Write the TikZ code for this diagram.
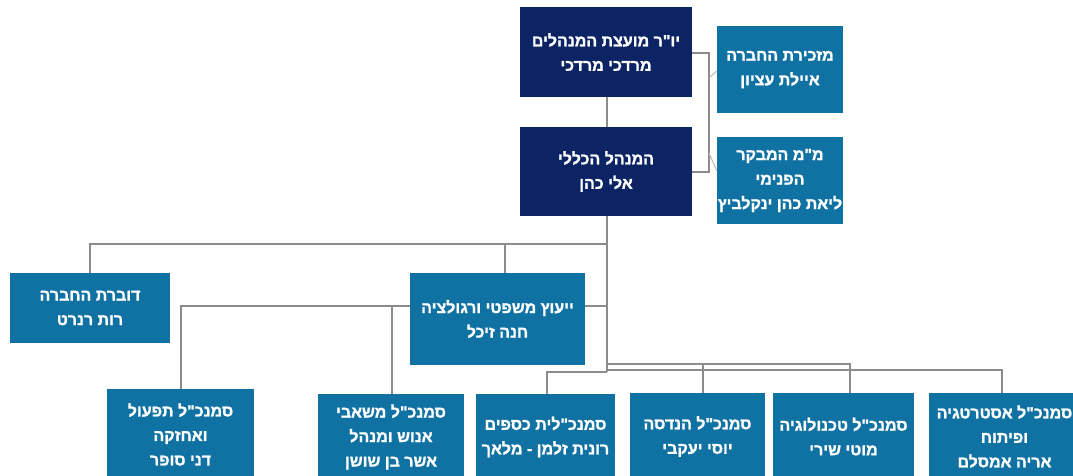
\documentclass[tikz,border=0pt]{standalone}
\usepackage{fontspec}
\TeXXeTstate=1
\newfontfamily\hebfont[Script=Hebrew, FakeBold=1.3]{Liberation Sans Bold}
\newcommand{\rl}[1]{\beginR #1\endR}
\definecolor{navy}{RGB}{12,36,99}
\definecolor{boxblue}{RGB}{16,114,162}
\definecolor{linegrey}{RGB}{140,140,140}
\definecolor{lightgrey}{RGB}{185,185,185}
\tikzset{
  orgbox/.style={rectangle, fill=boxblue, text=white, inner sep=0pt, align=center,
    font=\hebfont\fontsize{16}{24.5}\selectfont},
  topbox/.style={orgbox, fill=navy},
  conn/.style={draw=linegrey, line width=1.1pt},
  thinconn/.style={draw=lightgrey, line width=1pt}
}
\begin{document}
\begin{tikzpicture}[x=1pt,y=-1pt]
\useasboundingbox (0,0) rectangle (1073,475);
\begin{scope}
\clip (0,0) rectangle (1073,475);
% nodes
\node[topbox, minimum width=172pt, minimum height=90pt] (chair) at (606,52) {\rl{יו"ר מועצת המנהלים}\\\rl{מרדכי מרדכי}};
\node[topbox, minimum width=172pt, minimum height=89pt] (ceo) at (606,171.5) {\rl{המנהל הכללי}\\\rl{אלי כהן}};
\node[orgbox, minimum width=126pt, minimum height=87pt] (sec) at (780,69.5) {\rl{מזכירת החברה}\\\rl{איילת עציון}};
\node[orgbox, minimum width=126pt, minimum height=87pt] (aud) at (780,180.5) {\rl{מ"מ המבקר}\\\rl{הפנימי}\\\rl{ליאת כהן ינקלביץ}};
\node[orgbox, minimum width=160pt, minimum height=70pt] (dover) at (90,308) {\rl{דוברת החברה}\\\rl{רות רנרט}};
\node[orgbox, minimum width=175pt, minimum height=92pt] (legal) at (497.5,319) {\rl{ייעוץ משפטי ורגולציה}\\\rl{חנה זיכל}};
\node[orgbox, minimum width=147pt, minimum height=91pt] (ops) at (180.5,434.5) {\rl{סמנכ"ל תפעול}\\\rl{ואחזקה}\\\rl{דני סופר}};
\node[orgbox, minimum width=146pt, minimum height=86pt] (hr) at (391,437) {\rl{סמנכ"ל משאבי}\\\rl{אנוש ומנהל}\\\rl{אשר בן שושן}};
\node[orgbox, minimum width=139pt, minimum height=86pt] (fin) at (545.5,437) {\rl{סמנכ"לית כספים}\\\rl{רונית זלמן - מלאך}};
\node[orgbox, minimum width=135pt, minimum height=87pt] (eng) at (697.5,436.5) {\rl{סמנכ"ל הנדסה}\\\rl{יוסי יעקבי}};
\node[orgbox, minimum width=141pt, minimum height=87pt] (tech) at (843.5,436.5) {\rl{סמנכ"ל טכנולוגיה}\\\rl{מוטי שירי}};
\node[orgbox, minimum width=151pt, minimum height=87pt] (strat) at (1004.5,436.5) {\rl{סמנכ"ל אסטרטגיה}\\\rl{ופיתוח}\\\rl{אריה אמסלם}};
\end{scope}
% junction coordinates
\coordinate (tr) at (607,244);
\coordinate (trend) at (607,372);
\coordinate (bA) at (709,53);
\coordinate (bB) at (709,172);
\coordinate (dA) at (709,78);
\coordinate (dB) at (709,153);
\coordinate (lL) at (181,306);
\coordinate (hrJ) at (392,306);
\coordinate (lR) at (607,306);
\coordinate (h364) at (607,364);
\coordinate (h370) at (607,370);
% connectors
\draw[conn] (chair.south -| tr) -- (ceo.north -| tr);
\draw[conn] (ceo.south -| tr) -- (trend);
\draw[conn] (tr) -- (tr -| dover.north) -- (dover.north);
\draw[conn] (tr -| 505,0) -- (legal.north -| 505,0);
\draw[conn] (legal.west |- lL) -- (lL) -- (ops.north -| lL);
\draw[conn] (hrJ) -- (hr.north -| hrJ);
\draw[conn] (legal.east |- lR) -- (lR);
\draw[conn] (h364) -- (850,364) -- (tech.north -| 850,0);
\draw[conn] (703,364) -- (eng.north -| 703,0);
\draw[conn] (h370) -- (1002,370) -- (strat.north -| 1002,0);
\draw[conn] (trend) -- (547,372) -- (fin.north -| 547,0);
\draw[conn] (chair.east |- bA) -- (bA) -- (bB) -- (ceo.east |- bB);
\draw[thinconn] (dA) -- (sec.west |- 0,71);
\draw[thinconn] (dB) -- (aud.west |- 0,171);
\end{tikzpicture}
\end{document}
